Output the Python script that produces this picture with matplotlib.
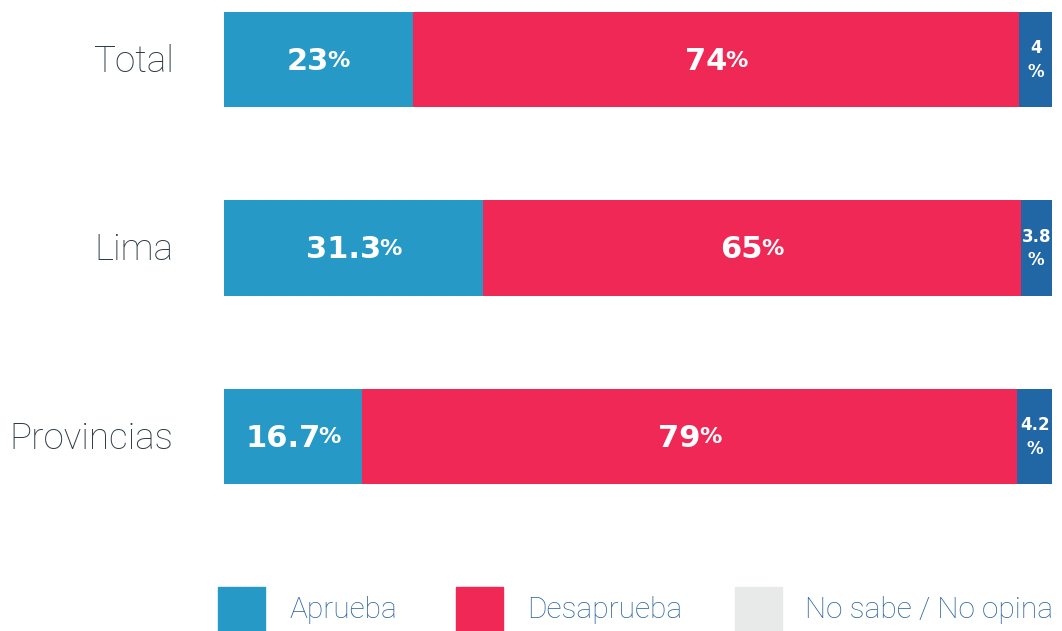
import matplotlib
matplotlib.use("Agg")
import matplotlib.pyplot as plt
from matplotlib.patches import Rectangle
import matplotlib.transforms as mtransforms

# datos
categorias = ["Total", "Lima", "Provincias"]
aprueba = [23, 31.3, 16.7]
desaprueba = [74, 65, 79]
no_sabe = [4, 3.8, 4.2]
etiquetas_aprueba = ["23", "31.3", "16.7"]
etiquetas_desaprueba = ["74", "65", "79"]
etiquetas_no_sabe = ["4", "3.8", "4.2"]
leyenda = ["Aprueba", "Desaprueba", "No sabe / No opina"]

azul = "#2699c7"
rojo = "#f02855"
azul_osc = "#2166a5"
gris = "#e8e9e9"
color_texto = "#2b3a42"
color_leyenda = "#2a64a0"

W, H = 1062, 631
fig = plt.figure(figsize=(W / 100, H / 100), dpi=100)
alto = 0.505
ax = fig.add_axes([224 / W, 147 / H, 828 / W, 472 / H])

# normalizar cada fila a 100
totales = [a + d + n for a, d, n in zip(aprueba, desaprueba, no_sabe)]
a_n = [a / t * 100 for a, t in zip(aprueba, totales)]
d_n = [d / t * 100 for d, t in zip(desaprueba, totales)]
n_n = [n / t * 100 for n, t in zip(no_sabe, totales)]
y = list(range(len(categorias)))

ax.barh(y, a_n, height=alto, color=azul)
ax.barh(y, d_n, left=a_n, height=alto, color=rojo)
izq3 = [a + d for a, d in zip(a_n, d_n)]
ax.barh(y, n_n, left=izq3, height=alto, color=azul_osc)

ax.set_xlim(0, 100)
ax.set_ylim(2 + alto / 2, -alto / 2)
ax.axis("off")

renderer = fig.canvas.get_renderer()
fuente = "DejaVu Sans"


def etiqueta(xc, yc, num, tam_num, tam_pct):
    t1 = ax.text(xc, yc, num, fontsize=tam_num, fontweight="bold",
                 color="white", ha="left", va="center_baseline", family=fuente)
    t2 = ax.text(xc, yc, "%", fontsize=tam_pct, fontweight="bold",
                 color="white", ha="left", va="center_baseline", family=fuente)
    w1 = t1.get_window_extent(renderer).width
    w2 = t2.get_window_extent(renderer).width
    total = w1 + w2 - 2
    t1.set_transform(ax.transData + mtransforms.Affine2D().translate(-total / 2, 1))
    t2.set_transform(ax.transData + mtransforms.Affine2D().translate(-total / 2 + w1 - 2, 1))


for i in y:
    etiqueta(a_n[i] / 2, i, etiquetas_aprueba[i], 22, 16)
    etiqueta(a_n[i] + d_n[i] / 2, i, etiquetas_desaprueba[i], 22, 16)
    xc = izq3[i] + n_n[i] / 2
    ax.text(xc, i - 0.06, etiquetas_no_sabe[i], fontsize=12, fontweight="bold",
            color="white", ha="center", va="center", family=fuente)
    ax.text(xc, i + 0.065, "%", fontsize=12, fontweight="bold",
            color="white", ha="center", va="center", family=fuente)
    ax.text(-0.061, i + 0.012, categorias[i], transform=ax.get_yaxis_transform(),
            fontsize=26.5, fontweight="light", family="Roboto",
            color=color_texto, ha="right", va="center")

# leyenda
colores = [azul, rojo, gris]
x_cuadro = [218, 456, 735]
x_texto = [290, 527, 805]
for c, xq, xt, txt in zip(colores, x_cuadro, x_texto, leyenda):
    fig.add_artist(Rectangle((xq / W, 0), 47 / W, 44 / H, color=c,
                             transform=fig.transFigure))
    fig.text(xt / W, 21 / H, txt, fontsize=21.5, fontweight="light",
             family="Roboto", color=color_leyenda, ha="left", va="center")

fig.savefig("out.png", dpi=100)
